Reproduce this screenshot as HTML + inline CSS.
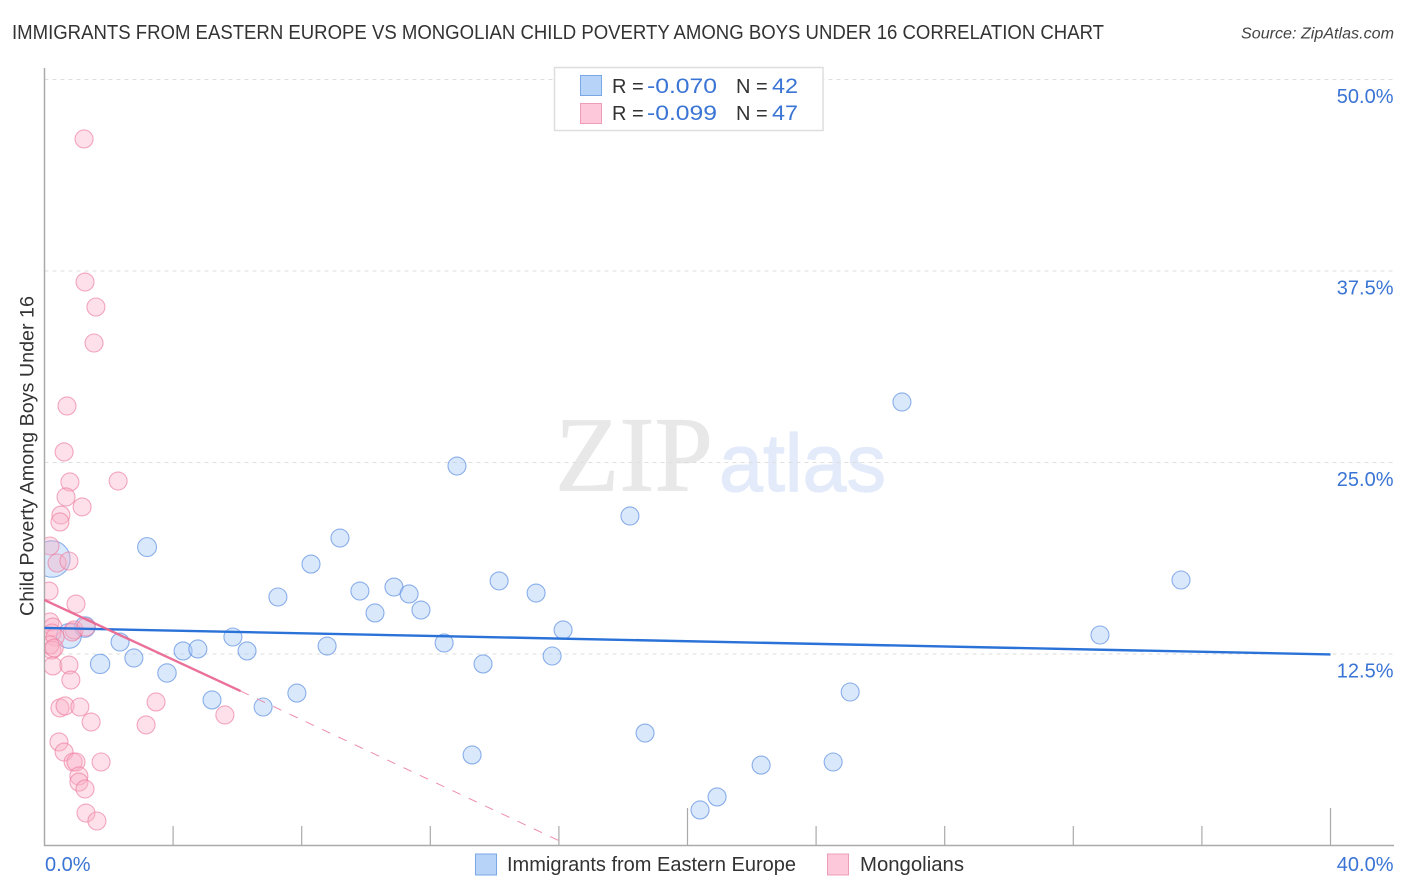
<!DOCTYPE html>
<html lang="en">
<head>
<meta charset="utf-8">
<title>Immigrants from Eastern Europe vs Mongolian Child Poverty Among Boys Under 16 Correlation Chart</title>
<style>
html,body{margin:0;padding:0;background:#fff;width:1406px;height:892px;overflow:hidden}
svg{display:block;font-family:"Liberation Sans",sans-serif}
</style>
</head>
<body>
<svg id="chart" xmlns="http://www.w3.org/2000/svg" width="1406" height="892" viewBox="0 0 1406 892">
  <defs>
    <clipPath id="plot-clip"><rect x="45" y="60" width="1349" height="785"/></clipPath>
  </defs>
  <rect x="0" y="0" width="1406" height="892" fill="#fff"/>

  <text x="12" y="39" font-size="20" fill="#333" textLength="1092" lengthAdjust="spacingAndGlyphs">IMMIGRANTS FROM EASTERN EUROPE VS MONGOLIAN CHILD POVERTY AMONG BOYS UNDER 16 CORRELATION CHART</text>
  <text x="1241" y="38.5" font-size="15.5" font-style="italic" fill="#444" textLength="153" lengthAdjust="spacingAndGlyphs">Source: ZipAtlas.com</text>

  <g>
    <text x="555" y="490.5" font-family="'Liberation Serif',serif" font-size="107" fill="#e8e8e8" stroke="#e8e8e8" stroke-width="0.8" textLength="158" lengthAdjust="spacingAndGlyphs">ZIP</text>
    <text x="719" y="491" font-size="82" fill="#e3ebfa" stroke="#e3ebfa" stroke-width="1.2" textLength="167" lengthAdjust="spacingAndGlyphs">atlas</text>
  </g>

  <g id="grid"></g>
  <g id="axes"></g>
  <g id="points-blue" clip-path="url(#plot-clip)"></g>
  <g id="points-pink" clip-path="url(#plot-clip)"></g>
  <g id="trends"></g>
  <g id="tick-labels"></g>

  <text transform="translate(33.5,616) rotate(-90)" font-size="19" fill="#333" textLength="320" lengthAdjust="spacingAndGlyphs">Child Poverty Among Boys Under 16</text>

  <g>
    <rect x="554.5" y="67.5" width="268.5" height="63" fill="#fff" stroke="#dedede" stroke-width="1.5"/>
    <rect x="580.5" y="75.5" width="21" height="20" fill="#b8d3f8" stroke="#79a8e6"/>
    <text x="612" y="93" font-size="20" fill="#333">R =</text>
    <text x="647" y="93" font-size="21" fill="#3a74d4" textLength="70" lengthAdjust="spacingAndGlyphs">-0.070</text>
    <text x="736" y="93" font-size="20" fill="#333">N =</text>
    <text x="772" y="93" font-size="21" fill="#3a74d4" textLength="26" lengthAdjust="spacingAndGlyphs">42</text>
    <rect x="580.5" y="103.5" width="21" height="20" fill="#fcc8da" stroke="#ee9db8"/>
    <text x="612" y="120" font-size="20" fill="#333">R =</text>
    <text x="647" y="120" font-size="21" fill="#3a74d4" textLength="70" lengthAdjust="spacingAndGlyphs">-0.099</text>
    <text x="736" y="120" font-size="20" fill="#333">N =</text>
    <text x="772" y="120" font-size="21" fill="#3a74d4" textLength="26" lengthAdjust="spacingAndGlyphs">47</text>
  </g>

  <g>
    <rect x="475.5" y="854" width="21" height="21" fill="#b8d3f8" stroke="#79a8e6"/>
    <text x="507" y="871" font-size="20" fill="#333" textLength="289" lengthAdjust="spacingAndGlyphs">Immigrants from Eastern Europe</text>
  </g>
  <g>
    <rect x="827.5" y="854" width="21" height="21" fill="#fcc8da" stroke="#ee9db8"/>
    <text x="860" y="871" font-size="20" fill="#333" textLength="104" lengthAdjust="spacingAndGlyphs">Mongolians</text>
  </g>
</svg>
<script>
// Chart data (percent values)
const immigrantsX = [0.23,0.76,1.26,1.73,2.35,2.78,3.19,3.81,4.31,4.77,5.21,5.86,6.30,6.80,7.26,7.85,8.29,8.79,9.19,9.81,10.28,10.87,11.34,11.71,12.43,12.83,13.30,13.64,14.14,15.29,15.79,16.13,18.21,18.68,20.39,20.92,22.29,24.53,25.06,26.67,32.83,35.35];
const immigrantsY = [18.70,13.68,14.26,11.85,13.28,12.24,19.48,11.26,12.70,12.83,9.50,13.61,12.70,9.04,16.22,9.95,18.37,13.02,20.07,16.61,15.18,16.87,16.42,15.37,13.22,24.77,5.91,11.85,17.27,16.48,12.37,14.07,21.51,7.34,2.32,3.17,5.25,5.45,10.02,28.95,13.74,17.33];
const immigrantsWeight = [4.1,1.9,1.3,1.15,1,1,1.1,1.05,1,1,1,1,1,1,1,1,1,1,1,1,1,1,1,1,1,1,1,1,1,1,1,1,1,1,1,1,1,1,1,1,1,1];
const mongoliansX = [1.23,1.26,1.60,1.54,0.70,0.61,0.79,2.29,0.67,1.17,0.51,0.48,0.17,0.39,0.76,0.14,0.98,0.17,0.26,0.92,0.86,1.29,0.23,0.33,0.23,0.17,0.30,0.26,0.76,0.82,0.48,0.64,1.10,1.45,3.16,3.47,5.61,0.45,0.61,0.89,0.98,1.76,1.07,1.07,1.26,1.29,1.63];
const mongoliansY = [46.12,36.78,35.15,32.80,28.69,25.69,23.73,23.79,22.75,22.10,21.57,21.12,19.55,18.44,18.57,16.61,15.76,14.59,14.26,14.07,13.94,14.26,13.87,13.61,12.76,13.09,12.89,11.72,11.78,10.80,8.98,9.11,9.04,8.06,7.87,9.37,8.52,6.76,6.10,5.45,5.45,5.45,4.54,4.14,3.69,2.12,1.60];
const immigrantsTrendX = [0,40];
const immigrantsTrendY = [14.2,12.47];
const mongoliansTrendX = [0,6.1];
const mongoliansTrendY = [16.02,10.08];
const mongoliansDashX = [6.1,16.2];
const mongoliansDashY = [10.08,0.12];
const xTickValues = [4,8,12,16,20,24,28,32,36,40];
const xMajorTicks = [20,40];
const yGridValues = [50,37.5,25,12.5];
const yTickLabels = ["50.0%","37.5%","25.0%","12.5%"];
const xEndValues = [0,40];
const xEndLabels = ["0.0%","40.0%"];

const NS = "http://www.w3.org/2000/svg";
function xScale(v){ return 44.5 + v * 32.15; }
function yScale(v){ return 845.5 - v * 15.32; }
function rScale(w){ return 9 * Math.sqrt(w); }
function make(tag, attrs, parent){
  const el = document.createElementNS(NS, tag);
  for (const k in attrs) el.setAttribute(k, attrs[k]);
  parent.appendChild(el);
  return el;
}

const grid = document.getElementById('grid');
yGridValues.forEach(function(v){
  const line = make('line', {x1:44.5, x2:1394, y1:yScale(v), y2:yScale(v), stroke:'#dedede', 'stroke-width':1, 'stroke-dasharray':'4 4'}, grid);
  
  
});

const axes = document.getElementById('axes');
const yAxisLine = make('line', {x1:44.5, x2:44.5, y1:68, y2:846, stroke:'#aaa', 'stroke-width':1.5}, axes);


const xAxisLine = make('line', {x1:44, x2:1394, y1:845.5, y2:845.5, stroke:'#aaa', 'stroke-width':1.5}, axes);


xTickValues.forEach(function(v){
  const top = xMajorTicks.indexOf(v) >= 0 ? 808 : 826;
  const tick = make('line', {x1:xScale(v), x2:xScale(v), y1:top, y2:845.5, stroke:'#aaa', 'stroke-width':1.2}, axes);
  
  
});

function drawPoints(parentId, xs, ys, ws, fill, stroke, name){
  const g = document.getElementById(parentId);
  xs.forEach(function(x, i){
    const c = make('circle', {cx:xScale(x), cy:yScale(ys[i]), r:rScale(ws ? ws[i] : 1), fill:fill, stroke:stroke, 'stroke-width':1.1}, g);
    
    
  });
}
drawPoints('points-blue', immigrantsX, immigrantsY, immigrantsWeight, 'rgba(172,204,246,0.46)', 'rgba(84,137,224,0.65)', 'immigrants-point');
drawPoints('points-pink', mongoliansX, mongoliansY, null, 'rgba(250,178,200,0.4)', 'rgba(236,124,160,0.65)', 'mongolians-point');

const trends = document.getElementById('trends');
const blueTrend = make('line', {x1:xScale(immigrantsTrendX[0]), x2:xScale(immigrantsTrendX[1]), y1:yScale(immigrantsTrendY[0]), y2:yScale(immigrantsTrendY[1]), stroke:'#2a72d8', 'stroke-width':2.4}, trends);


const pinkDash = make('line', {x1:xScale(mongoliansDashX[0]), x2:xScale(mongoliansDashX[1]), y1:yScale(mongoliansDashY[0]), y2:yScale(mongoliansDashY[1]), stroke:'#ee8cae', 'stroke-width':1, 'stroke-dasharray':'9 9'}, trends);


const pinkTrend = make('line', {x1:xScale(mongoliansTrendX[0]), x2:xScale(mongoliansTrendX[1]), y1:yScale(mongoliansTrendY[0]), y2:yScale(mongoliansTrendY[1]), stroke:'#e8648f', 'stroke-width':2.4, 'stroke-opacity':0.92}, trends);



const labels = document.getElementById('tick-labels');
yGridValues.forEach(function(v, i){
  const t = make('text', {x:1393.5, y:yScale(v) + 23.5, 'text-anchor':'end', 'font-size':20, fill:'#3a74d4'}, labels);
  
  
  t.textContent = yTickLabels[i];
});
xEndValues.forEach(function(v, i){
  const t = make('text', {x:i === 0 ? xScale(v) + 0.5 : xScale(v) + 63, y:871, 'text-anchor':i === 0 ? 'start' : 'end', 'font-size':20, fill:'#3a74d4'}, labels);
  
  
  t.textContent = xEndLabels[i];
});
</script>
</body>
</html>
